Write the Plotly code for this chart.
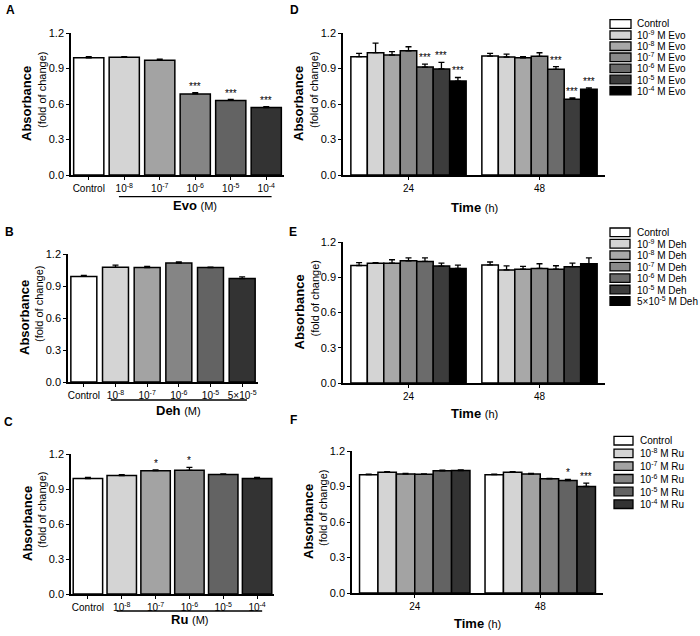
import plotly.graph_objects as go

FONT = "Arial, 'Liberation Sans', sans-serif"
W, H = 700, 636

# ---------------- data ----------------
# Panel A: Evo (single time point)
evo_doses = ["Control", "10<sup>-8</sup>", "10<sup>-7</sup>", "10<sup>-6</sup>", "10<sup>-5</sup>", "10<sup>-4</sup>"]
evo_vals = [0.99, 0.995, 0.97, 0.685, 0.63, 0.57]
evo_err = [0.01, 0.006, 0.008, 0.01, 0.008, 0.008]
evo_sig = ["", "", "", "***", "***", "***"]

# Panel B: Deh
deh_doses = ["Control", "10<sup>-8</sup>", "10<sup>-7</sup>", "10<sup>-6</sup>", "10<sup>-5</sup>", "5×10<sup>-5</sup>"]
deh_vals = [0.99, 1.075, 1.073, 1.115, 1.073, 0.97]
deh_err = [0.01, 0.02, 0.01, 0.012, 0.004, 0.015]
deh_sig = ["", "", "", "", "", ""]

# Panel C: Ru
ru_doses = ["Control", "10<sup>-8</sup>", "10<sup>-7</sup>", "10<sup>-6</sup>", "10<sup>-5</sup>", "10<sup>-4</sup>"]
ru_vals = [0.99, 1.015, 1.057, 1.06, 1.025, 0.99]
ru_err = [0.01, 0.008, 0.006, 0.025, 0.004, 0.01]
ru_sig = ["", "", "*", "*", "", ""]

times = ["24", "48"]

# Panel D: Evo over time
d_names = ["Control", "10<sup>-9</sup> M Evo", "10<sup>-8</sup> M Evo", "10<sup>-7</sup> M Evo",
           "10<sup>-6</sup> M Evo", "10<sup>-5</sup> M Evo", "10<sup>-4</sup> M Evo"]
d_vals = [[1.0, 1.005], [1.034, 0.997], [1.014, 0.99], [1.05, 1.003],
          [0.912, 0.893], [0.896, 0.64], [0.794, 0.724]]
d_err = [[0.028, 0.022], [0.08, 0.025], [0.028, 0.01], [0.034, 0.03],
         [0.025, 0.023], [0.056, 0.012], [0.03, 0.012]]
d_sig = [["", ""], ["", ""], ["", ""], ["", ""], ["***", "***"], ["***", "***"], ["***", "***"]]

# Panel E: Deh over time
e_names = ["Control", "10<sup>-9</sup> M Deh", "10<sup>-8</sup> M Deh", "10<sup>-7</sup> M Deh",
           "10<sup>-6</sup> M Deh", "10<sup>-5</sup> M Deh", "5×10<sup>-5</sup> M Deh"]
e_vals = [[1.0, 1.005], [1.02, 0.962], [1.019, 0.968], [1.04, 0.975],
          [1.035, 0.968], [0.995, 0.99], [0.975, 1.015]]
e_err = [[0.025, 0.025], [0.005, 0.035], [0.03, 0.025], [0.025, 0.04],
         [0.03, 0.03], [0.025, 0.03], [0.028, 0.05]]
e_sig = [["", ""]] * 7

# Panel F: Ru over time
f_names = ["Control", "10<sup>-8</sup> M Ru", "10<sup>-7</sup> M Ru", "10<sup>-6</sup> M Ru",
           "10<sup>-5</sup> M Ru", "10<sup>-4</sup> M Ru"]
f_vals = [[1.0, 1.0], [1.02, 1.02], [1.005, 1.005], [1.003, 0.965],
          [1.033, 0.95], [1.035, 0.9]]
f_err = [[0.005, 0.005], [0.006, 0.006], [0.005, 0.006], [0.004, 0.004],
         [0.005, 0.01], [0.005, 0.028]]
f_sig = [["", ""], ["", ""], ["", ""], ["", ""], ["", "*"], ["", "***"]]

pal6 = ["#ffffff", "#d4d4d4", "#a3a3a3", "#858585", "#636363", "#333333"]
pal7 = ["#ffffff", "#d4d4d4", "#a8a8a8", "#8a8a8a", "#6b6b6b", "#3c3c3c", "#000000"]

# ---------------- layout helpers ----------------
def fx(px):
    return px / W

def fy(py):
    return 1 - py / H

fig = go.Figure()
annotations = []
shapes = []

BARGAP = 0.12

panel_boxes = {
    1: dict(x=(71, 284), y=(33, 175)),   # A
    2: dict(x=(68, 258), y=(254, 382)),  # B
    3: dict(x=(71, 274), y=(454, 594)),  # C
    4: dict(x=(343, 605), y=(33, 175)),  # D
    5: dict(x=(343, 605), y=(242, 383)), # E
    6: dict(x=(352, 603), y=(451, 593)), # F
}

def txt(text, px, py, size, angle=0, xanchor="center", yanchor="middle"):
    annotations.append(dict(x=fx(px), y=fy(py), xref="paper", yref="paper", text=text,
                            showarrow=False, xanchor=xanchor, yanchor=yanchor, textangle=angle,
                            font=dict(family=FONT, size=size, color="black")))

layout_axes = {}
for k, box in panel_boxes.items():
    xn = "xaxis" if k == 1 else f"xaxis{k}"
    yn = "yaxis" if k == 1 else f"yaxis{k}"
    xa = "x" if k == 1 else f"x{k}"
    ya = "y" if k == 1 else f"y{k}"
    layout_axes[xn] = dict(
        domain=[fx(box["x"][0]), fx(box["x"][1])], anchor=ya, type="category",
        showline=True, linecolor="black", linewidth=1.5, ticks="outside", ticklen=3,
        tickwidth=1, tickcolor="black", showgrid=False, zeroline=False, automargin=False,
        tickfont=dict(family=FONT, size=10, color="black"),
    )
    layout_axes[yn] = dict(
        domain=[fy(box["y"][1]), fy(box["y"][0])], anchor=xa, range=[0, 1.2], dtick=0.3,
        tick0=0, tickformat=".1f", showline=True, linecolor="black", linewidth=1.5,
        ticks="outside", ticklen=3, tickwidth=1, tickcolor="black", showgrid=False,
        zeroline=False, automargin=False, tickfont=dict(family=FONT, size=11, color="black"),
    )
    # y-axis title (two lines, as in the original figure)
    axis_px = box["x"][0]
    mid_py = (box["y"][0] + box["y"][1]) / 2
    txt("<b>Absorbance</b>", axis_px - 44, mid_py, 13, angle=-90)
    txt("(fold of change)", axis_px - 29, mid_py - 14, 11, angle=-90)

for k, ty in ((4, 207), (5, 413), (6, 623)):
    box = panel_boxes[k]
    layout_axes[f"xaxis{k}"]["range"] = [-0.5, 1.5]
    txt("<b>Time</b> <span style='font-size:11px'>(h)</span>", (box["x"][0] + box["x"][1]) / 2, ty, 13)

# ---------------- single-series panels (A, B, C) ----------------
single = [
    (1, evo_doses, evo_vals, evo_err, evo_sig, 0.85, "<b>Evo</b> <span style='font-size:11px'>(M)</span>", 196.7, 205),
    (2, deh_doses, deh_vals, deh_err, deh_sig, 0.82, "<b>Deh</b> <span style='font-size:11px'>(M)</span>", 400, 410),
    (3, ru_doses, ru_vals, ru_err, ru_sig, 0.87, "<b>Ru</b> <span style='font-size:11px'>(M)</span>", 611, 619),
]
for k, cats, vals, err, sig, bw, label, line_py, label_py in single:
    xa = "x" if k == 1 else f"x{k}"
    ya = "y" if k == 1 else f"y{k}"
    fig.add_trace(go.Bar(
        x=cats, y=vals, width=bw, xaxis=xa, yaxis=ya, showlegend=False,
        marker=dict(color=pal6, line=dict(color="black", width=1.5)),
        error_y=dict(type="data", array=err, arrayminus=[0] * len(err), symmetric=False,
                     color="black", thickness=1.3, width=3),
    ))
    layout_axes["xaxis" if k == 1 else f"xaxis{k}"]["range"] = [-0.5, len(cats) - 0.5]
    for i, s in enumerate(sig):
        if s:
            annotations.append(dict(x=i, y=vals[i] + err[i], xref=xa, yref=ya, text=s,
                                    showarrow=False, yanchor="bottom", yshift=-1,
                                    font=dict(family=FONT, size=10, color="black")))
    # underline bracket for dose group and its label
    shapes.append(dict(type="line", xref=xa, yref="paper", x0=0.85, x1=5.15,
                       y0=fy(line_py), y1=fy(line_py), line=dict(color="black", width=1.3)))
    annotations.append(dict(x=3, y=fy(label_py), xref=xa, yref="paper", text=label,
                            showarrow=False, xanchor="center", yanchor="middle",
                            font=dict(family=FONT, size=13, color="black")))

# ---------------- grouped panels (D, E, F) ----------------
grouped = [
    (4, d_names, d_vals, d_err, d_sig, pal7, (610, 631, 24, 11.1, 635)),
    (5, e_names, e_vals, e_err, e_sig, pal7, (610, 630, 232.3, 11.45, 635)),
    (6, f_names, f_vals, f_err, f_sig, pal6, (614, 633, 440.7, 12.7, 638)),
]
for k, names, vals, errs, sigs, pal, leg in grouped:
    xa = f"x{k}"
    ya = f"y{k}"
    n = len(names)
    bw = (1 - BARGAP) / n
    for i in range(n):
        fig.add_trace(go.Bar(
            x=times, y=vals[i], name=names[i], xaxis=xa, yaxis=ya, showlegend=False,
            marker=dict(color=pal[i], line=dict(color="black", width=1.5)),
            error_y=dict(type="data", array=errs[i], arrayminus=[0, 0], symmetric=False,
                         color="black", thickness=1.3, width=3),
        ))
        for j, s in enumerate(sigs[i]):
            if s:
                xpos = j - (1 - BARGAP) / 2 + bw * (i + 0.5)
                annotations.append(dict(x=xpos, y=vals[i][j] + errs[i][j], xref=xa, yref=ya,
                                        text=s, showarrow=False, yanchor="bottom", yshift=-1,
                                        font=dict(family=FONT, size=10, color="black")))
    # legend (swatches + labels)
    sx0, sx1, ly0, lsp, tx = leg
    for i in range(n):
        cy = ly0 + i * lsp
        shapes.append(dict(type="rect", xref="paper", yref="paper",
                           x0=fx(sx0), x1=fx(sx1), y0=fy(cy - 4.3), y1=fy(cy + 4.3),
                           fillcolor=pal[i], line=dict(color="black", width=1.3)))
        txt(names[i], tx, cy, 10, xanchor="left")

# ---------------- panel letters ----------------
for letter, px, py in [("A", 10, 10), ("B", 9, 232), ("C", 8, 422),
                       ("D", 294, 10), ("E", 293, 232), ("F", 293, 420)]:
    txt(f"<b>{letter}</b>", px, py, 12)

fig.update_layout(
    width=W, height=H, margin=dict(l=0, r=0, t=0, b=0, autoexpand=False),
    paper_bgcolor="white", plot_bgcolor="white",
    barmode="group", bargap=BARGAP, bargroupgap=0,
    font=dict(family=FONT, color="black"),
    annotations=annotations, shapes=shapes,
    **layout_axes,
)

fig.write_html("out.html", config={"displayModeBar": False},
               post_script="document.body.style.margin='0px';")
